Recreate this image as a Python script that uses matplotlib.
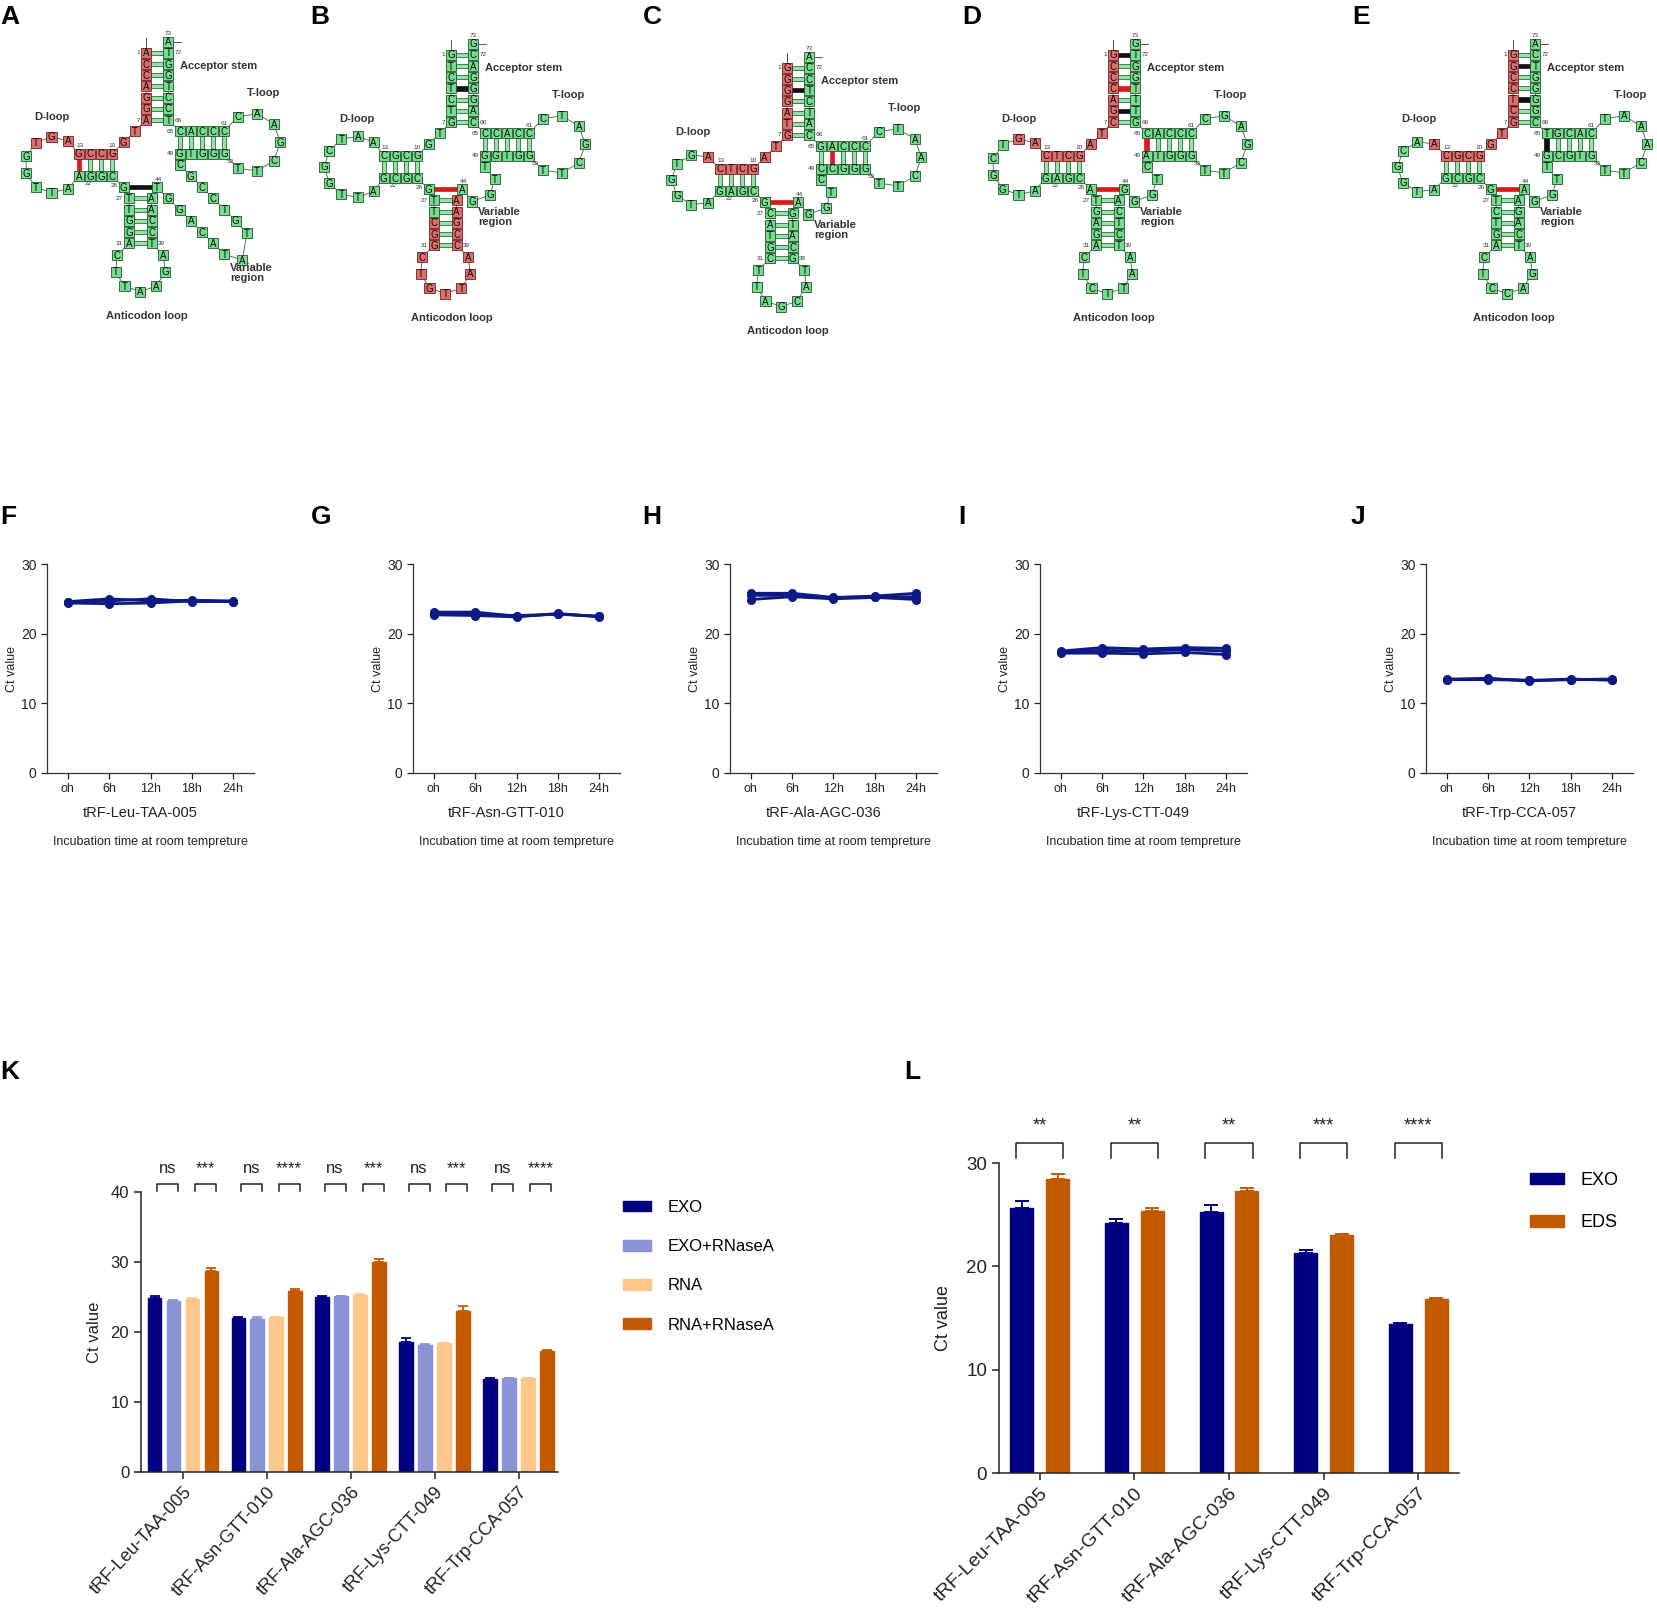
import numpy as np
import matplotlib
matplotlib.use("Agg")
import matplotlib.pyplot as plt
from matplotlib.patches import Rectangle

plt.rcParams['font.family'] = ['Liberation Sans', 'DejaVu Sans']

# ------------------------------------------------------------------ data
TRF_NAMES = ["tRF-Leu-TAA-005", "tRF-Asn-GTT-010", "tRF-Ala-AGC-036",
             "tRF-Lys-CTT-049", "tRF-Trp-CCA-057"]

# tRNA segments (5'->3'): acc5, link, Dstem5, Dloop, Dstem3, n26, ACstem5, ACloop,
# ACstem3, n44, variable, Tstem5, Tloop, Tstem3, acc3, n73
LEU_SEGS = ["ACCAGGA", "TG", "GCCG", "AGTGGTTA", "AGGC", "G", "TTGGA", "CTTAAGA",
            "TCCAA", "T", "GGACATATGTCCGC", "GTGGG", "TTCGAAC", "CCCAC", "TCCTGGT", "A"]
ASN_SEGS = ["GTCTCTG", "TG", "GCGC", "AATCGGTTA", "GCGC", "G", "TTCGG", "CTGTTAA",
            "CCGAA", "A", "GGTT", "GGTGG", "TTCGATC", "CCACC", "CAGGGAC", "G"]
ALA_SEGS = ["GGGGATG", "TA", "GCTC", "AGTGGTA", "GAGC", "G", "CATGC", "TTAGCAT",
            "GCATG", "A", "GGTC", "CCGGG", "TTCAATC", "CCCAG", "CATCTCC", "A"]
LYS_SEGS = ["GCCCAGC", "TA", "GCTC", "AGTCGGTA", "GAGC", "A", "TGAGA", "CTCTTAA",
            "TCTCA", "G", "GGTC", "ATGGG", "TTCGAGC", "CCCAC", "GTTTGGT", "G"]
TRP_SEGS = ["GGCCTCG", "TG", "GCGC", "AACGGTA", "GCGC", "G", "TCTGA", "CTCCAGA",
            "TCAGA", "A", "GGTT", "GCGTG", "TTCAAAT", "CACGT", "CGGGGTC", "A"]

# pair types: acceptor(top->bottom), D-stem(left->right), 26-44, anticodon(top->bottom), T-stem(left->right)
LEU_PAIRS = ["ggggggg", "rggg", "k", "ggggg", "ggggg"]
ASN_PAIRS = ["gggkggg", "gggg", "r", "ggggg", "ggggg"]
ALA_PAIRS = ["ggkgggg", "gggg", "r", "ggggg", "grggg"]
LYS_PAIRS = ["kggrgkg", "gggg", "r", "ggggg", "rgggg"]
TRP_PAIRS = ["gkggkgg", "gggg", "r", "ggggg", "kgggg"]

# tRF-derived (red) nucleotide range, half-open index range
LEU_RED = (0, 16)
ASN_RED = (29, 44)
ALA_RED = (0, 14)
LYS_RED = (0, 15)
TRP_RED = (0, 14)

# stability over incubation time (three replicates each)
TIMES = ["oh", "6h", "12h", "18h", "24h"]
LEU_TIME_CT = [[24.4, 24.3, 24.4, 24.7, 24.6],
               [24.6, 25.0, 24.7, 24.8, 24.7],
               [24.5, 24.7, 25.0, 24.6, 24.6]]
ASN_TIME_CT = [[23.1, 23.1, 22.5, 22.8, 22.5],
               [22.7, 22.6, 22.4, 22.9, 22.4],
               [22.8, 22.8, 22.6, 22.8, 22.5]]
ALA_TIME_CT = [[25.8, 25.8, 25.2, 25.4, 25.8],
               [24.9, 25.3, 25.0, 25.2, 24.9],
               [25.5, 25.5, 25.1, 25.3, 25.3]]
LYS_TIME_CT = [[17.5, 18.0, 17.8, 18.0, 17.9],
               [17.2, 17.2, 17.1, 17.3, 17.0],
               [17.4, 17.6, 17.5, 17.7, 17.5]]
TRP_TIME_CT = [[13.4, 13.6, 13.2, 13.5, 13.3],
               [13.5, 13.5, 13.3, 13.4, 13.5],
               [13.4, 13.4, 13.3, 13.4, 13.4]]

# panel K
K_SERIES = ["EXO", "EXO+RNaseA", "RNA", "RNA+RNaseA"]
K_EXO = [24.8, 22.0, 25.0, 18.6, 13.3]
K_EXO_RNASE = [24.4, 21.8, 25.1, 18.2, 13.4]
K_RNA = [24.7, 22.1, 25.3, 18.4, 13.4]
K_RNA_RNASE = [28.7, 25.8, 30.0, 23.0, 17.3]
K_EXO_ERR = [0.4, 0.2, 0.1, 0.6, 0.1]
K_EXO_RNASE_ERR = [0.2, 0.3, 0.1, 0.1, 0.1]
K_RNA_ERR = [0.1, 0.1, 0.1, 0.1, 0.1]
K_RNA_RNASE_ERR = [0.5, 0.3, 0.5, 0.7, 0.2]
K_SIG_LEFT = ["ns", "ns", "ns", "ns", "ns"]
K_SIG_RIGHT = ["***", "****", "***", "***", "****"]

# panel L
L_SERIES = ["EXO", "EDS"]
L_EXO = [25.65, 24.2, 25.3, 21.3, 14.4]
L_EDS = [28.45, 25.4, 27.3, 23.07, 16.8]
L_EXO_ERR = [0.7, 0.4, 0.6, 0.3, 0.1]
L_EDS_ERR = [0.45, 0.2, 0.3, 0.1, 0.15]
L_SIG = ["**", "**", "**", "***", "****"]

# ------------------------------------------------------------------ figure
W, H, DPI = 1658, 1614, 100
fig = plt.figure(figsize=(W / DPI, H / DPI), dpi=DPI)
TXT = '#222222'


def ax_px(x0, y0, x1, y1):
    return fig.add_axes([x0 / W, 1 - y1 / H, (x1 - x0) / W, (y1 - y0) / H])


def letter(x, y, s):
    fig.text(x / W, 1 - y / H, s, fontsize=19, fontweight='bold', ha='left', va='top')


# ------------------------------------------------------------------ tRNA structures
U = 11.2
TOP_H = 345
ax_s = ax_px(0, 0, W, TOP_H)
ax_s.set_xlim(0, W / U)
ax_s.set_ylim(TOP_H / U, 0)
ax_s.axis('off')


def solve_r(n, s, c):
    lo, hi = c / 2 + 1e-6, 60.0
    for _ in range(80):
        mid = (lo + hi) / 2
        g = 2 * np.arcsin(min(1, c / 2 / mid)) + (n + 1) * 2 * np.arcsin(min(1, s / 2 / mid)) - 2 * np.pi
        if g > 0:
            lo = mid
        else:
            hi = mid
    return (lo + hi) / 2


def loop_pts(p0, p1, side, n, s):
    p0 = np.array(p0, float)
    p1 = np.array(p1, float)
    c = np.linalg.norm(p1 - p0)
    r = solve_r(n, s, c)
    m = (p0 + p1) / 2
    ctr = m + np.array(side, float) * np.sqrt(r * r - (c / 2) ** 2)
    a0 = np.arctan2(p0[1] - ctr[1], p0[0] - ctr[0])
    a1 = np.arctan2(p1[1] - ctr[1], p1[0] - ctr[0])
    ccw = (a1 - a0) % (2 * np.pi)
    if ccw > np.pi:
        sgn, span = 1, ccw
    else:
        sgn, span = -1, 2 * np.pi - ccw
    out = []
    for k in range(1, n + 1):
        a = a0 + sgn * span * k / (n + 1)
        out.append((ctr[0] + r * np.cos(a), ctr[1] + r * np.sin(a)))
    return out


def var_pts(n):
    if n <= 5:
        return [(1.9, 7.1), (3.5, 6.5), (3.9, 5.1), (3.0, 4.0)][:n]
    half = (n - 2) // 2
    out = [(2 + k, 7 + k) for k in range(half)]
    out += [(2 + half + 0.6, 6 + half + 0.5), (3 + half, 5 + half - 0.9)]
    out += [(2 + half - k, 3 + half - k) for k in range(half)]
    return out


def trna_layout(segs):
    L = [len(s) for s in segs]
    pts = [(0, -6 + i) for i in range(7)]
    pts += [(-1, 1), (-2, 2)]
    pts += [(-3 - i, 3) for i in range(4)]
    pts += loop_pts((-6, 3), (-6, 5), (-1, 0), L[3], 1.5)
    pts += [(-6 + i, 5) for i in range(4)]
    pts += [(-2, 6)]
    pts += [(-1.5, 7 + i) for i in range(5)]
    pts += loop_pts((-1.5, 11), (0.5, 11), (0, 1), L[7], 1.5)
    pts += [(0.5, 11 - i) for i in range(5)]
    pts += [(1, 6)]
    pts += var_pts(L[10])
    pts += [(3 + i, 3) for i in range(5)]
    pts += loop_pts((7, 3), (7, 1), (1, 0), L[12], 1.75)
    pts += [(7 - i, 1) for i in range(5)]
    pts += [(2, -i) for i in range(7)]
    pts += [(2, -7)]
    starts = np.concatenate([[0], np.cumsum(L)])
    return pts, starts


PAIR_COL = {'g': '#8de6a3', 'k': '#111111', 'r': '#dd1a1a'}


def pair_bar(ax, pa, pb, kind, ox, oy):
    (xa, ya), (xb, yb) = pa, pb
    fc = PAIR_COL[kind]
    ec = '#1c4a27' if kind == 'g' else fc
    th = 0.34 if kind == 'g' else 0.4
    if abs(ya - yb) < 1e-6:
        x0, x1 = sorted([xa, xb])
        ax.add_patch(Rectangle((ox + x0 + 0.45, oy + ya - th / 2), x1 - x0 - 0.9, th,
                               fc=fc, ec=ec, lw=0.5, zorder=2))
    else:
        y0, y1 = sorted([ya, yb])
        ax.add_patch(Rectangle((ox + xa - th / 2, oy + y0 + 0.45), th, y1 - y0 - 0.9,
                               fc=fc, ec=ec, lw=0.5, zorder=2))


def draw_trna(ax, px, py, segs, pairs, red):
    ox, oy = px / U, py / U
    pts, S = trna_layout(segs)
    seq = "".join(segs)
    xs = [ox + p[0] for p in pts]
    ys = [oy + p[1] for p in pts]
    ax.plot(xs, ys, color='#555555', lw=0.6, zorder=1)
    for i, (ch, x, y) in enumerate(zip(seq, xs, ys)):
        is_red = red[0] <= i < red[1]
        fc = '#de6e6c' if is_red else '#74de8e'
        ec = '#6e2020' if is_red else '#24522f'
        ax.add_patch(Rectangle((x - 0.45, y - 0.45), 0.9, 0.9, fc=fc, ec=ec, lw=0.6, zorder=3))
        ax.text(x, y + 0.05, ch, fontsize=7, ha='center', va='center', color='#0a0a0a', zorder=4)
    for k, t in enumerate(pairs[0]):
        pair_bar(ax, pts[k], pts[S[14] + 6 - k], t, ox, oy)
    for t_i, t in enumerate(pairs[1]):
        j = 3 - t_i
        pair_bar(ax, pts[S[2] + j], pts[S[4] + 3 - j], t, ox, oy)
    pair_bar(ax, pts[S[5]], pts[S[9]], pairs[2], ox, oy)
    for j, t in enumerate(pairs[3]):
        pair_bar(ax, pts[S[6] + j], pts[S[8] + 4 - j], t, ox, oy)
    for j, t in enumerate(pairs[4]):
        pair_bar(ax, pts[S[11] + j], pts[S[13] + 4 - j], t, ox, oy)
    nfs = 4.6
    ncol = '#333333'

    def lab(idx, s, dx, dy, ha, va):
        ax.text(ox + pts[idx][0] + dx, oy + pts[idx][1] + dy, s, fontsize=nfs,
                color=ncol, ha=ha, va=va, zorder=5)
    lab(0, "1", -0.55, 0, 'right', 'center')
    lab(6, "7", -0.55, 0, 'right', 'center')
    lab(S[2], "10", 0, -0.5, 'center', 'bottom')
    lab(S[2] + 3, "13", 0.1, -0.5, 'center', 'bottom')
    lab(S[4], "22", 0.5, 0.45, 'left', 'top')
    lab(S[5], "26", -0.55, -0.15, 'right', 'center')
    lab(S[6], "27", -0.55, 0, 'right', 'center')
    lab(S[6] + 4, "31", -0.55, 0, 'right', 'center')
    lab(S[8], "39", 0.55, 0, 'left', 'center')
    lab(S[9], "44", 0.1, -0.5, 'center', 'bottom')
    lab(S[11], "49", -0.55, 0, 'right', 'center')
    lab(S[11] + 4, "53", 0.2, 0.5, 'left', 'top')
    lab(S[13], "61", 0.0, -0.5, 'center', 'bottom')
    lab(S[13] + 4, "65", -0.55, 0, 'right', 'center')
    lab(S[14], "66", 0.55, 0, 'left', 'center')
    lab(S[14] + 6, "72", 0.55, 0, 'left', 'center')
    lab(S[15], "73", 0, -0.5, 'center', 'bottom')
    ax.plot([ox, ox], [oy - 6.5, oy - 7.3], color='#333333', lw=0.6)
    ax.plot([ox + 2.5, ox + 3.1], [oy - 7, oy - 7], color='#333333', lw=0.6)
    kw = dict(fontsize=8, fontweight='bold', color='#333333', zorder=5)
    ax.text(ox + 3.0, oy - 4.8, "Acceptor stem", ha='left', va='center', **kw)
    ax.text(ox + 9.0, oy - 2.4, "T-loop", ha='left', va='center', **kw)
    ax.text(ox - 10.0, oy - 0.3, "D-loop", ha='left', va='center', **kw)
    if len(segs[10]) > 5:
        ax.text(ox + 7.5, oy + 13.7, "Variable\nregion", ha='left', va='center', linespacing=1.0, **kw)
    else:
        ax.text(ox + 2.4, oy + 8.5, "Variable\nregion", ha='left', va='center', linespacing=1.0, **kw)
    ax.text(ox + 0.1, oy + 17.5, "Anticodon loop", ha='center', va='center', **kw)


STRUCTS = [(146, 120, LEU_SEGS, LEU_PAIRS, LEU_RED),
           (451, 122, ASN_SEGS, ASN_PAIRS, ASN_RED),
           (787, 135, ALA_SEGS, ALA_PAIRS, ALA_RED),
           (1113, 122, LYS_SEGS, LYS_PAIRS, LYS_RED),
           (1513, 122, TRP_SEGS, TRP_PAIRS, TRP_RED)]
for px, py, segs, pairs, red in STRUCTS:
    draw_trna(ax_s, px, py, segs, pairs, red)

for (x, y, s) in [(0, 5, "A"), (310, 5, "B"), (643, 5, "C"), (962, 5, "D"), (1352, 5, "E")]:
    letter(x, y, s)

# ------------------------------------------------------------------ F-J line charts
LINE_SETS = [LEU_TIME_CT, ASN_TIME_CT, ALA_TIME_CT, LYS_TIME_CT, TRP_TIME_CT]
LINE_BOXES = [(47, 254), (413, 620), (730, 937), (1040, 1247), (1426, 1633)]
Y_TOP, Y_BOT = 564, 773
for name, reps, (x0, x1) in zip(TRF_NAMES, LINE_SETS, LINE_BOXES):
    ax = ax_px(x0, Y_TOP, x1, Y_BOT)
    xx = np.arange(len(TIMES))
    for rep in reps:
        ax.plot(xx, rep, color='#0d1a86', lw=2.0, marker='o', ms=5.5, clip_on=False)
    ax.set_xlim(-0.5, len(TIMES) - 0.5)
    ax.set_ylim(0, 30)
    ax.set_yticks([0, 10, 20, 30])
    ax.set_xticks(xx)
    ax.set_xticklabels(TIMES, fontsize=9, color=TXT)
    ax.tick_params(axis='y', labelsize=10, colors=TXT, length=4, width=0.9)
    ax.tick_params(axis='x', length=4, width=0.9, colors=TXT)
    for sp in ['top', 'right']:
        ax.spines[sp].set_visible(False)
    for sp in ['left', 'bottom']:
        ax.spines[sp].set_linewidth(0.9)
        ax.spines[sp].set_color('#333333')
    ax.set_ylabel("Ct value", fontsize=9, color=TXT)
    ax.yaxis.set_label_coords(-29 / (x1 - x0), 0.5)
    hgt = Y_BOT - Y_TOP
    ax.text(0.5 - 10 / (x1 - x0), -(813 - Y_BOT) / hgt, name, transform=ax.transAxes,
            ha='center', va='center', fontsize=10.5, color=TXT)
    ax.text(0.5, -(842 - Y_BOT) / hgt, "Incubation time at room tempreture", transform=ax.transAxes,
            ha='center', va='center', fontsize=9, color=TXT)

for (x, s) in [(0, "F"), (311, "G"), (642, "H"), (958, "I"), (1351, "J")]:
    letter(x, 505, s)


# ------------------------------------------------------------------ K
def bracket(ax, xa, xb, y0, y1, txt, ty, fs):
    ax.plot([xa, xa, xb, xb], [y0, y1, y1, y0], color='#222222', lw=1.1, clip_on=False)
    ax.text((xa + xb) / 2, ty, txt, ha='center', va='baseline', fontsize=fs, color=TXT, clip_on=False)


axK = ax_px(141, 1192, 558, 1472)
K_VALUES = [K_EXO, K_EXO_RNASE, K_RNA, K_RNA_RNASE]
K_ERRS = [K_EXO_ERR, K_EXO_RNASE_ERR, K_RNA_ERR, K_RNA_RNASE_ERR]
K_COLORS = ['#000080', '#8b93d6', '#fdc68a', '#c45a00']
xg = np.arange(len(TRF_NAMES))
kw_, ksp = 0.164, 0.226
k_off = (np.arange(4) - 1.5) * ksp
for vals, errs, col, off, lab in zip(K_VALUES, K_ERRS, K_COLORS, k_off, K_SERIES):
    axK.bar(xg + off, vals, width=kw_, color=col, edgecolor=col, label=lab, zorder=2)
    axK.errorbar(xg + off, vals, yerr=[np.zeros(len(vals)), errs], fmt='none', ecolor=col,
                 elinewidth=1.3, capsize=3.5, capthick=1.3, zorder=3, clip_on=False)
for g in xg:
    mid_l = g + (k_off[0] + k_off[1]) / 2 + 0.04
    mid_r = g + (k_off[2] + k_off[3]) / 2 + 0.04
    bracket(axK, mid_l - 0.125, mid_l + 0.125, 40.1, 41.2, K_SIG_LEFT[g], 42.7, 12)
    bracket(axK, mid_r - 0.125, mid_r + 0.125, 40.1, 41.2, K_SIG_RIGHT[g], 42.7, 12)
axK.set_xlim(-0.5, 4.47)
axK.set_ylim(0, 40)
axK.set_yticks([0, 10, 20, 30, 40])
axK.set_xticks(xg)
axK.set_xticklabels(TRF_NAMES, rotation=47, ha='right', va='top', rotation_mode='anchor',
                    fontsize=13, color=TXT)
axK.tick_params(axis='y', labelsize=12, colors=TXT, length=5, width=1.1)
axK.tick_params(axis='x', length=5, width=1.1, colors=TXT)
for sp in ['top', 'right']:
    axK.spines[sp].set_visible(False)
for sp in ['left', 'bottom']:
    axK.spines[sp].set_linewidth(1.1)
    axK.spines[sp].set_color('#222222')
axK.set_ylabel("Ct value", fontsize=12, color=TXT, labelpad=6)
axK.legend(loc='upper left', bbox_to_anchor=(623 / W, 1 - 1200 / H), bbox_transform=fig.transFigure,
           frameon=False, fontsize=12, handlelength=1.7, handleheight=0.6, handletextpad=1.0,
           labelspacing=1.45, borderaxespad=0, borderpad=0)
letter(0, 1060, "K")

# ------------------------------------------------------------------ L
axL = ax_px(999, 1163, 1459, 1473)
L_VALUES = [L_EXO, L_EDS]
L_ERRS = [L_EXO_ERR, L_EDS_ERR]
L_COLORS = ['#000080', '#c45a00']
lw_, loff = 0.243, 0.19
for vals, errs, col, off, lab in zip(L_VALUES, L_ERRS, L_COLORS, [-loff, loff], L_SERIES):
    axL.bar(xg + off, vals, width=lw_, color=col, edgecolor=col, label=lab, zorder=2)
    axL.errorbar(xg + off, vals, yerr=[np.zeros(len(vals)), errs], fmt='none', ecolor=col,
                 elinewidth=1.4, capsize=5, capthick=1.4, zorder=3, clip_on=False)
for g in xg:
    bracket(axL, g - 0.25, g + 0.25, 30.5, 31.9, L_SIG[g], 33.1, 13)
axL.set_xlim(-0.43, 4.43)
axL.set_ylim(0, 30)
axL.set_yticks([0, 10, 20, 30])
axL.set_xticks(xg)
axL.set_xticklabels(TRF_NAMES, rotation=45, ha='right', va='top', rotation_mode='anchor',
                    fontsize=14, color=TXT)
axL.tick_params(axis='y', labelsize=13.5, colors=TXT, length=5, width=1.1)
axL.tick_params(axis='x', length=5, width=1.1, colors=TXT)
for sp in ['top', 'right']:
    axL.spines[sp].set_visible(False)
for sp in ['left', 'bottom']:
    axL.spines[sp].set_linewidth(1.1)
    axL.spines[sp].set_color('#222222')
axL.set_ylabel("Ct value", fontsize=13, color=TXT, labelpad=10)
axL.legend(loc='upper left', bbox_to_anchor=(1530 / W, 1 - 1172 / H), bbox_transform=fig.transFigure,
           frameon=False, fontsize=13, handlelength=1.9, handleheight=0.6, handletextpad=0.9,
           labelspacing=1.4, borderaxespad=0, borderpad=0)
letter(904, 1060, "L")

fig.savefig("out.png", dpi=DPI)
